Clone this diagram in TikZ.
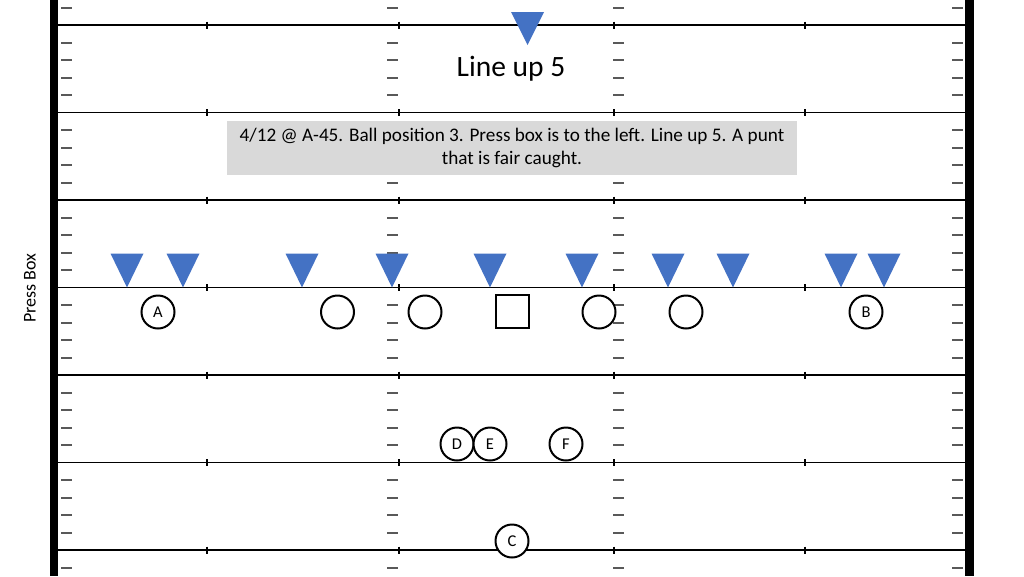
\documentclass[tikz,border=0pt]{standalone}
\usepackage{fontspec}
\setmainfont{Carlito}
\definecolor{rusherblue}{HTML}{4472C4}
\definecolor{boxgray}{HTML}{D9D9D9}
\definecolor{hashgray}{HTML}{595959}
\begin{document}
\begin{tikzpicture}[x=1pt,y=-1pt,
    yardline/.style={line width=2.4pt},
    fiveline/.style={line width=1.4pt},
    sideline/.style={line width=8.5pt},
    hashmark/.style={draw=hashgray,line width=2pt},
    rusher/.style={fill=rusherblue},
    player/.style={circle,draw,fill=white,line width=2pt,minimum size=33pt,
        inner sep=0pt,font=\fontsize{16.5}{16.5}\selectfont},
    snapper/.style={rectangle,draw,fill=white,line width=2pt,minimum size=33pt,
        inner sep=0pt}]
    \useasboundingbox (0,0) rectangle (1024,576);

    % hash marks, every yard
    \foreach \j in {-1,...,31}{
        \pgfmathtruncatemacro{\onyard}{mod(\j+5,5)==0}
        \ifnum\onyard=0
            \pgfmathsetmacro{\hy}{25+17.5*\j}
            \foreach \hx in {61,387,613,952}
                \draw[hashmark] (\hx,\hy) -- ++(11,0);
        \fi
    }

    % yard lines
    \foreach \ly in {25,200,375,550}
        \draw[yardline] (58,\ly) -- (965,\ly);
    \foreach \ly in {112.5,287.5,462.5}
        \draw[fiveline] (58,\ly) -- (965,\ly);
    \foreach \ly in {25,112.5,200,287.5,375,462.5,550}
        \foreach \tx in {207,399,614,805}
            \draw[line width=1.2pt] (\tx,\ly-3.5) -- (\tx,\ly+3.5);

    % sidelines
    \draw[sideline] (54,0) -- (54,576);
    \draw[sideline] (969.5,0) -- (969.5,576);

    \node[rotate=90,font=\fontsize{18}{18}\selectfont] (pressbox) at (30,288)
        {Press Box};
    \node[anchor=base,font=\fontsize{29.5}{30}\selectfont] (title) at (511,76)
        {Line up 5};
    \node[fill=boxgray,minimum width=570pt,minimum height=54pt,align=center,
        font=\fontsize{19.2}{23.4}\selectfont] (info) at (512,148)
        {4/12 @ A-45. Ball position 3. Press box is to the left. Line up 5. A punt\\
         that is fair caught.};

    % return team
    \fill[rusher] (511,12) -- (544,12) -- (527.5,45) -- cycle;
    \foreach \tx in {127,183,302,392,490,582,668,733,841,884}
        \fill[rusher] (\tx-16.5,253.5) -- (\tx+16.5,253.5) -- (\tx,287.5) -- cycle;

    % kicking team
    \node[player] (a) at (158,312) {A};
    \node[player] (l2) at (337.5,312) {};
    \node[player] (l1) at (425,312) {};
    \node[snapper] (snap) at (512,311.5) {};
    \node[player] (r1) at (599,312) {};
    \node[player] (r2) at (686,312) {};
    \node[player] (b) at (866,312) {B};
    \node[player] (d) at (457,444) {D};
    \node[player] (e) at (490,444) {E};
    \node[player] (f) at (566,444) {F};
    \node[player] (c) at (512,541) {C};
\end{tikzpicture}
\end{document}
